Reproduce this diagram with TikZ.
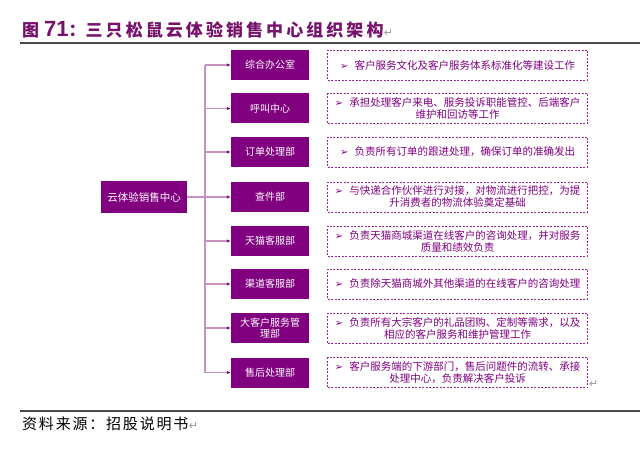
\documentclass[tikz,border=0pt]{standalone}
\usepackage{fontspec}
\setmainfont{Noto Sans CJK SC}
\newfontfamily\symfont{DejaVu Sans}
\newfontfamily\numfont{Liberation Sans}
\usetikzlibrary{arrows.meta,positioning}
\definecolor{plum}{RGB}{128,0,128}
\definecolor{plumline}{RGB}{200,145,195}
\definecolor{plumdark}{RGB}{118,18,108}
\definecolor{markgray}{RGB}{150,150,150}
\tikzset{dept node/.style={rectangle,fill=plum,draw=none,text=white,minimum width=78pt,minimum height=30pt,inner sep=1pt,align=center,font=\fontsize{10}{11}\selectfont},
         root node/.style={dept node,minimum width=86pt,minimum height=32pt,font=\fontsize{10.5}{12}\selectfont},
         duty box/.style={rectangle,draw=plum!85,line width=0.8pt,dash pattern=on 2pt off 1.5pt,text=plum,minimum width=260pt,minimum height=30pt,inner sep=1pt,align=center,font=\fontsize{10.5}{12}\selectfont},
         trunk/.style={draw=plumline,line width=1.2pt},
         branch/.style={trunk,-{Latex[length=4pt,width=3.5pt,color=plumdark]}},
         rule line/.style={draw=black!70,line width=1.3pt},
         para mark/.style={rectangle,draw=none,text=markgray,inner sep=0pt,font=\symfont\fontsize{11}{11}\selectfont},
}
\newcommand{\bul}{{\symfont\fontsize{10}{10}\selectfont ➢}\hspace{6pt}}

\begin{document}
\begin{tikzpicture}[x=1pt,y=-1pt]
\useasboundingbox (0,0) rectangle (640,454);
% \draw[help lines,step=20] (0,0) grid (640,454);
\node[anchor=base west,inner sep=0pt,text=plumdark,font=\fontsize{17}{17}\selectfont\bfseries] (title) at (22,37)
    {图\hspace{5pt}{\numfont\fontsize{22}{22}\selectfont 71}：\addfontfeatures{LetterSpace=18}三只松鼠云体验销售中心组织架构};
\node[para mark,anchor=base west] at (title.base east) {↵};
\draw[rule line] (20,43) -- (640,43);

\node[root node] (0) at (144,197) {云体验销售中心};
\node[dept node] (1) at (270,65) {综合办公室};
\node[dept node] (2) at (270,108.5) {呼叫中心};
\node[dept node] (3) at (270,152) {订单处理部};
\node[dept node] (4) at (270,197) {查件部};
\node[dept node] (5) at (270,241) {天猫客服部};
\node[dept node] (6) at (270,284) {渠道客服部};
\node[dept node] (7) at (270,328) {大客户服务管\\理部};
\node[dept node] (8) at (270,372.5) {售后处理部};

\node[duty box,right=18pt of 1] (d1) {\bul 客户服务文化及客户服务体系标准化等建设工作};
\node[duty box,right=18pt of 2] (d2) {\bul 承担处理客户来电、服务投诉职能管控、后端客户\\维护和回访等工作};
\node[duty box,right=18pt of 3] (d3) {\bul 负责所有订单的跟进处理，确保订单的准确发出};
\node[duty box,right=18pt of 4] (d4) {\bul 与快递合作伙伴进行对接，对物流进行把控，为提\\升消费者的物流体验奠定基础};
\node[duty box,right=18pt of 5] (d5) {\bul 负责天猫商城渠道在线客户的咨询处理，并对服务\\质量和绩效负责};
\node[duty box,right=18pt of 6] (d6) {\bul 负责除天猫商城外其他渠道的在线客户的咨询处理};
\node[duty box,right=18pt of 7] (d7) {\bul 负责所有大宗客户的礼品团购、定制等需求，以及\\相应的客户服务和维护管理工作};
\node[duty box,right=18pt of 8] (d8) {\bul 客户服务端的下游部门，售后问题件的流转、承接\\处理中心，负责解决客户投诉};
\node[para mark,anchor=south west,xshift=1pt] at (d8.south east) {↵};

\coordinate (bus) at (205,197);
\draw[trunk] (0.east) -- (bus);
\draw[trunk] (bus |- 1.west) -- (bus |- 8.west);
\foreach \i in {1,...,8}
    \draw[branch] (bus |- \i.west) -- (\i.west);

\draw[rule line] (20,411) -- (640,411);
\node[anchor=base west,inner sep=0pt,font=\fontsize{15}{15}\selectfont\addfontfeatures{LetterSpace=12}] (source) at (22,429) {资料来源：招股说明书};
\node[para mark,anchor=base west] at (source.base east) {↵};
\end{tikzpicture}
\end{document}
